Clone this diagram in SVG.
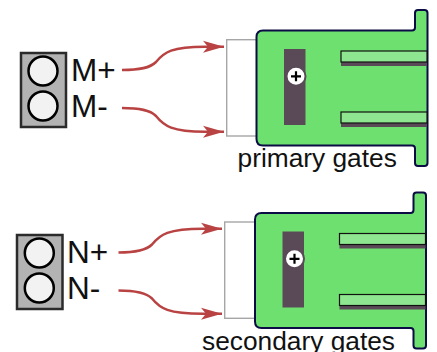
<svg xmlns="http://www.w3.org/2000/svg" width="437" height="352" viewBox="0 0 437 352">
<style>
.lbl{font-family:"Liberation Sans",Arial,sans-serif;fill:#111}
.big{font-size:31.500px}
.cap{font-size:26.300px}
.box{fill:#b3b3b3;stroke:#2b2b2b;stroke-width:2.500}
.pin{fill:#f2f2f2;stroke:#000;stroke-width:2.500}
.wire{fill:none;stroke:#b94343;stroke-width:2.500;marker-end:url(#arr)}
.shell{fill:#fff;stroke:#a6a6a6;stroke-width:1.400}
.body{fill:#6ee06f;stroke:#0b0b45;stroke-width:2}
.bar{fill:#5a4a58}
.slot{fill:#8fe690;stroke:#111;stroke-width:1.200}
</style>
<defs>
<marker id="arr" markerUnits="userSpaceOnUse" markerWidth="24" markerHeight="14" refX="21" refY="6.500" orient="auto">
<path d="M0 0.500L21 6.500L0 12.500L5 6.500Z" fill="#b94343"/>
</marker>
<g id="plate">
<path class="body" d="M263 30.500H412Q415 30.500 415 27.500V13Q415 10 418 10H424.500Q427.500 10 427.500 13V163Q427.500 166 424.500 166H418Q415 166 415 163V148.500Q415 145.500 412 145.500H263Q256.500 145.500 256.500 139V37Q256.500 30.500 263 30.500Z"/>
<rect class="bar" x="284" y="49" width="21.500" height="76"/>
<rect class="bar" x="341" y="55" width="86" height="11"/>
<rect class="bar" x="341" y="116" width="86" height="11"/>
<rect class="slot" x="341" y="51" width="86" height="11"/>
<rect class="slot" x="341" y="112" width="86" height="11"/>
<circle cx="296" cy="76.300" r="9.500" fill="#fff" stroke="#5a4a58" stroke-width="2"/>
<path d="M291 76.300H301M296 71.300V81.300" stroke="#000" stroke-width="2.200" fill="none"/>
</g>
</defs>
<g id="connector-m">
<rect class="box" x="21" y="53" width="45" height="74"/>
<circle class="pin" cx="43" cy="71" r="14.500"/>
<circle class="pin" cx="43" cy="106" r="14.500"/>
<text class="lbl big" x="71" y="80.700">M+</text>
<text class="lbl big" x="71" y="116.700">M-</text>
</g>
<g id="connector-n">
<rect class="box" x="17" y="235" width="45.500" height="74"/>
<circle class="pin" cx="39.300" cy="253" r="14.500"/>
<circle class="pin" cx="39.300" cy="288" r="14.500"/>
<text class="lbl big" x="67" y="263">N+</text>
<text class="lbl big" x="67" y="299">N-</text>
</g>
<g id="gate-primary">
<rect class="shell" x="226.700" y="39.700" width="30" height="96.300"/>
<use href="#plate"/>
<text class="lbl cap" x="237.500" y="167">primary gates</text>
</g>
<g id="gate-secondary">
<rect class="shell" x="224.700" y="222" width="30" height="96.300"/>
<use href="#plate" transform="translate(-1.500 182.500)"/>
<text class="lbl cap" x="202" y="349.500">secondary gates</text>
</g>
<g id="connectors">
<path class="wire" d="M122 70C140 70 150 68 156 62C164 52 172 46.700 205 46.700L224 46.700"/>
<path class="wire" d="M122 108C140 108 150 110 156 116C164 126 172 131.700 205 131.700L224 131.700"/>
<path class="wire" d="M118.500 252.500C136 252.500 146 250.500 152 244.500C160 234.500 168 228.700 203 228.700L222 228.700"/>
<path class="wire" d="M118.500 290.500C136 290.500 146 292.500 152 298.500C160 308.500 168 313.700 203 313.700L222 313.700"/>
</g>
</svg>
